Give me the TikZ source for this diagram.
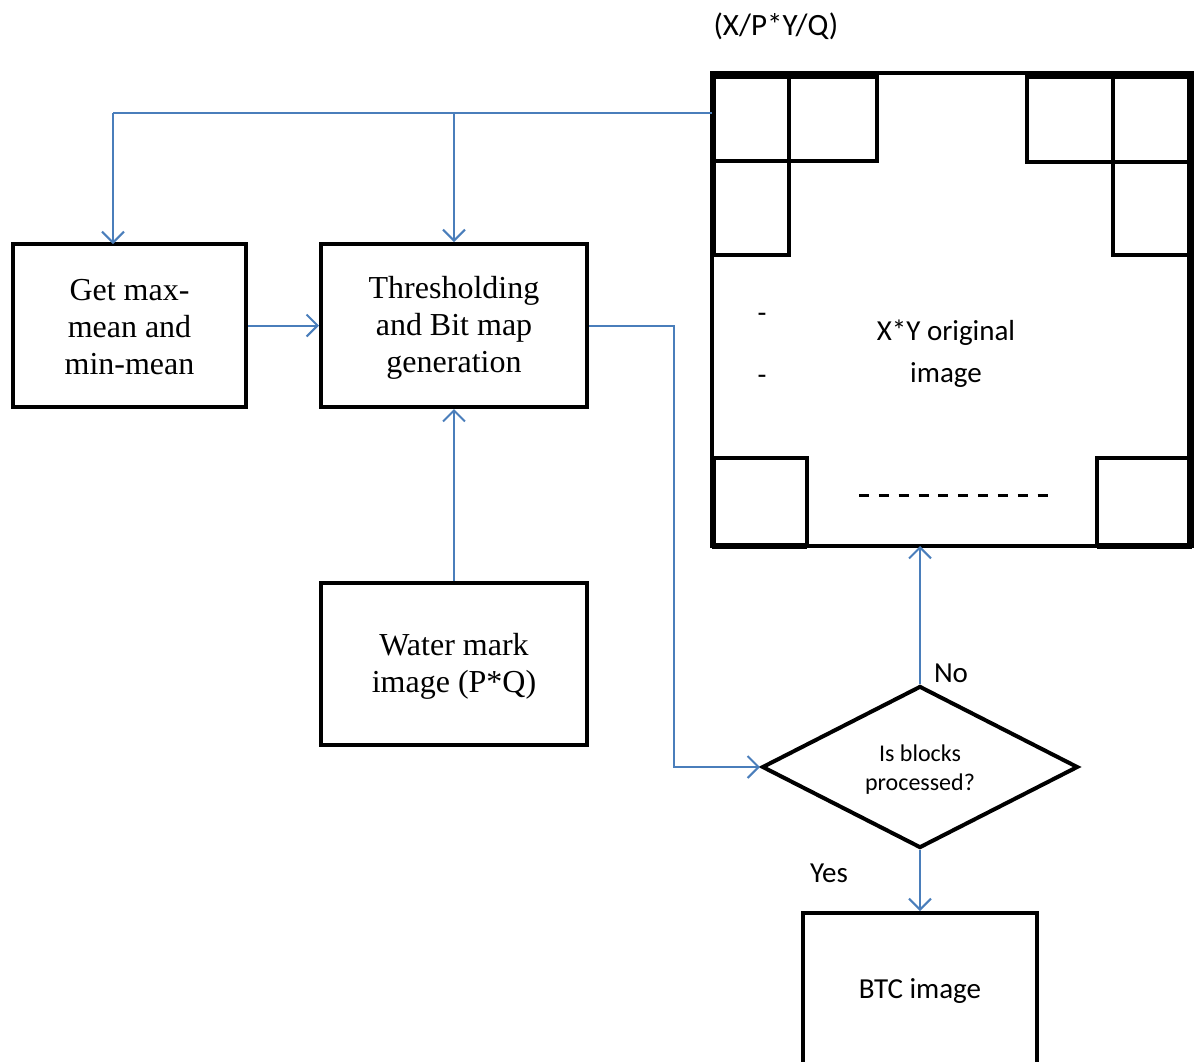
\documentclass[tikz,border=0pt]{standalone}
\usepackage{fontspec}
\setmainfont{Liberation Serif}
\newfontfamily\calfnt{Carlito}
\usetikzlibrary{arrows.meta,shapes.geometric}
\definecolor{lblue}{HTML}{4A7EBB}
\tikzset{
  box/.style={draw=black,line width=4pt,align=center,inner sep=0pt},
  blk/.style={draw=black,line width=4pt},
  conn/.style={draw=lblue,line width=2pt,-{Straight Barb[length=11pt,width=22pt,line width=2pt]}},
  line/.style={draw=lblue,line width=2pt},
  tms/.style={font=\fontsize{32}{37}\selectfont,align=center},
  clb/.style={font=\calfnt\fontsize{29}{42}\selectfont,align=center},
}
\begin{document}
\begin{tikzpicture}[x=1pt,y=-1pt]
\useasboundingbox (0,0) rectangle (1204,1061);
% boxes
\node[box,minimum width=233pt,minimum height=163pt] (gm) at (129.5,325.5) {};
\node[tms] (gmt) at (129.5,327.5) {Get max-\\mean and\\min-mean};
\node[box,minimum width=266pt,minimum height=163pt] (th) at (454,325.5) {};
\node[tms] (tht) at (454,327.5) {Thresholding\\and Bit map\\generation};
\node[box,minimum width=266pt,minimum height=162pt] (wm) at (454,664) {};
\node[tms] (wmt) at (454,666) {Water mark\\image (P*Q)};
\node[box,minimum width=234pt,minimum height=160pt] (btc) at (920,993) {};
\node[font=\calfnt\fontsize{29}{32}\selectfont] (btct) at (920,991) {BTC image};
% image block
\node[draw=black,line width=4pt,minimum width=480pt,minimum height=473pt,inner sep=0pt] (img) at (952,309.5) {};
\draw[blk] (714,77) rectangle (789,161);
\draw[blk] (789,77) rectangle (877,161);
\draw[blk] (714,161) rectangle (789,255);
\draw[blk] (1027,77) rectangle (1113,162);
\draw[blk] (1113,77) rectangle (1189,162);
\draw[blk] (1113,162) rectangle (1189,255);
\draw[blk] (714,458) rectangle (807,546);
\draw[blk] (1097,458) rectangle (1190,546);
\draw[line width=6pt] (712,75) -- (789,75);
\draw[line width=6pt] (1113,75) -- (1192,75);
\draw[line width=6pt] (1190,75) -- (1190,546);
\draw[line width=6pt] (712,546) -- (807,546);
\draw[line width=6pt] (1097,546) -- (1192,546);
\node[clb] (imt) at (946,354) {X*Y original\\image};
\node[clb] (d1) at (762,318) {-};
\node[clb] (d2) at (762,380) {-};
\coordinate (da) at (859,495);
\coordinate (db) at (1049,495);
\draw[line width=3pt,dash pattern=on 10pt off 9.85pt] (da) -- (db);
\node[font=\calfnt\fontsize{31}{36}\selectfont] (ttl) at (776,26) {(X/P*Y/Q)};
% diamond
\node[draw=black,line width=4pt,diamond,minimum width=316pt,minimum height=162pt,inner sep=0pt] (dia) at (920,767) {};
\node[font=\calfnt\fontsize{24}{29}\selectfont,align=center] (diat) at (920,770) {Is blocks\\processed?};
\node[font=\calfnt\fontsize{29}{32}\selectfont] (no) at (951,673) {No};
\node[font=\calfnt\fontsize{29}{32}\selectfont] (yes) at (829,873) {Yes};
% connectors
\coordinate (c1) at (712,113);
\coordinate (c2) at (113,113);
\coordinate (c3) at (454,113);
\draw[line] (c1) -- (c2);
\draw[conn] (c2) -- (113,244);
\draw[conn] (c3) -- (th.north);
\draw[conn] (gm.east) -- (th.west);
\draw[conn] (wm.north) -- (th.south);
\draw[conn] (th.east) -- (674,325.5) |- (dia.west);
\draw[conn] (dia.north) -- (920,546);
\draw[conn] (dia.south) -- (btc.north);
\end{tikzpicture}
\end{document}
